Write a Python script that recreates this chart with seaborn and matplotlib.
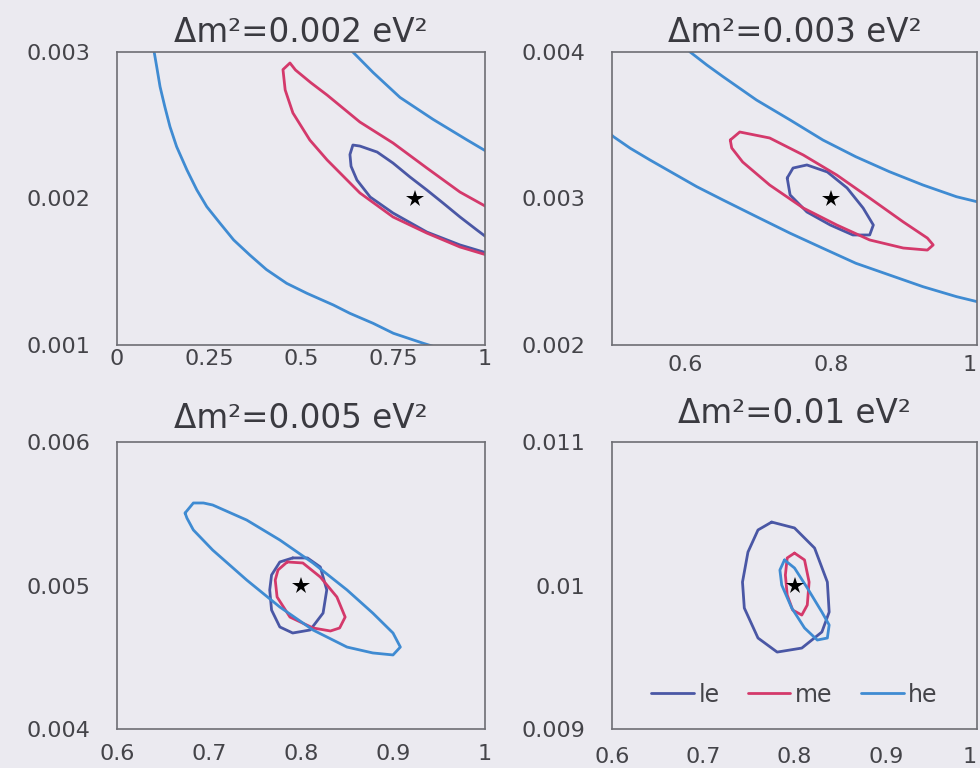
import matplotlib
matplotlib.use("Agg")
import matplotlib.pyplot as plt
import seaborn as sns

# ---------------- data ----------------
titles = ["Δm²=0.002 eV²", "Δm²=0.003 eV²", "Δm²=0.005 eV²", "Δm²=0.01 eV²"]
xlims = [(0.0, 1.0), (0.5, 1.0), (0.6, 1.0), (0.6, 1.0)]
ylims = [(0.001, 0.003), (0.002, 0.004), (0.004, 0.006), (0.009, 0.011)]
xticks = [[0, 0.25, 0.5, 0.75, 1], [0.6, 0.8, 1.0], [0.6, 0.7, 0.8, 0.9, 1.0], [0.6, 0.7, 0.8, 0.9, 1.0]]
xticklabels = [["0", "0.25", "0.5", "0.75", "1"], ["0.6", "0.8", "1"],
               ["0.6", "0.7", "0.8", "0.9", "1"], ["0.6", "0.7", "0.8", "0.9", "1"]]
yticklabels = [["0.001", "0.002", "0.003"], ["0.002", "0.003", "0.004"],
               ["0.004", "0.005", "0.006"], ["0.009", "0.01", "0.011"]]
best_x = [0.81, 0.80, 0.80, 0.80]
best_y = [0.0020, 0.0030, 0.0050, 0.0100]

# panel 1 (dm2 = 0.002)
p1_le_x = [1.005, 0.932, 0.842, 0.750, 0.688, 0.652, 0.636, 0.633, 0.641, 0.660, 0.707, 0.750, 0.796, 0.842, 0.886, 0.932, 0.978, 1.014]
p1_le_y = [0.001628, 0.001683, 0.001771, 0.001901, 0.002010, 0.002126, 0.002220, 0.002300, 0.002365, 0.002358, 0.002317, 0.002242, 0.002147, 0.002058, 0.001969, 0.001874, 0.001785, 0.001717]
p1_me_x = [1.005, 0.932, 0.842, 0.750, 0.660, 0.571, 0.524, 0.478, 0.457, 0.451, 0.470, 0.485, 0.527, 0.571, 0.660, 0.750, 0.842, 0.932, 1.005]
p1_me_y = [0.001614, 0.001669, 0.001764, 0.001874, 0.002038, 0.002263, 0.002399, 0.002584, 0.002741, 0.002880, 0.002925, 0.002877, 0.002790, 0.002706, 0.002522, 0.002379, 0.002208, 0.002044, 0.001942]
p1_he1_x = [0.099, 0.101, 0.108, 0.117, 0.130, 0.144, 0.162, 0.190, 0.217, 0.244, 0.280, 0.317, 0.361, 0.406, 0.461, 0.516, 0.588, 0.633, 0.696, 0.751, 0.832, 0.860]
p1_he1_y = [0.00302, 0.00300, 0.002898, 0.002763, 0.002626, 0.002490, 0.002354, 0.002195, 0.002058, 0.001944, 0.001831, 0.001717, 0.001614, 0.001515, 0.001421, 0.001353, 0.001273, 0.001216, 0.001148, 0.001080, 0.001012, 0.000990]
p1_he2_x = [0.633, 0.696, 0.769, 0.859, 0.951, 1.005]
p1_he2_y = [0.00302, 0.00286, 0.00269, 0.00254, 0.00240, 0.00232]

# panel 2 (dm2 = 0.003)
p2_le_x = [0.740, 0.748, 0.767, 0.795, 0.822, 0.844, 0.858, 0.853, 0.830, 0.799, 0.767, 0.744, 0.740]
p2_le_y = [0.003140, 0.003208, 0.003229, 0.003181, 0.003072, 0.002935, 0.002819, 0.002751, 0.002751, 0.002819, 0.002908, 0.003024, 0.003140]
p2_me_x = [0.662, 0.675, 0.716, 0.762, 0.808, 0.853, 0.899, 0.932, 0.940, 0.932, 0.899, 0.853, 0.808, 0.762, 0.716, 0.679, 0.664, 0.662]
p2_me_y = [0.003399, 0.003454, 0.003413, 0.003297, 0.003160, 0.003003, 0.002840, 0.002730, 0.002683, 0.002648, 0.002662, 0.002717, 0.002819, 0.002935, 0.003092, 0.003249, 0.003345, 0.003399]
p2_he1_x = [0.498, 0.502, 0.525, 0.552, 0.584, 0.616, 0.652, 0.698, 0.744, 0.789, 0.834, 0.880, 0.926, 0.972, 1.005]
p2_he1_y = [0.003440, 0.003422, 0.003343, 0.003263, 0.003172, 0.003081, 0.002990, 0.002876, 0.002763, 0.002660, 0.002558, 0.002478, 0.002398, 0.002330, 0.002290]
p2_he2_x = [0.600, 0.607, 0.630, 0.652, 0.675, 0.698, 0.721, 0.744, 0.789, 0.834, 0.880, 0.926, 0.972, 1.005]
p2_he2_y = [0.004040, 0.004000, 0.003911, 0.003832, 0.003752, 0.003672, 0.003604, 0.003536, 0.003399, 0.003285, 0.003183, 0.003092, 0.003012, 0.002972]

# panel 3 (dm2 = 0.005)
p3_le_x = [0.791, 0.777, 0.768, 0.766, 0.768, 0.777, 0.791, 0.810, 0.824, 0.828, 0.821, 0.807, 0.791]
p3_le_y = [0.005192, 0.005164, 0.005073, 0.004969, 0.004829, 0.004711, 0.004669, 0.004690, 0.004808, 0.004969, 0.005129, 0.005192, 0.005192]
p3_me_x = [0.785, 0.775, 0.772, 0.774, 0.788, 0.813, 0.832, 0.842, 0.848, 0.839, 0.821, 0.802, 0.785]
p3_me_y = [0.005164, 0.005108, 0.005038, 0.004920, 0.004780, 0.004704, 0.004683, 0.004704, 0.004780, 0.004920, 0.005059, 0.005157, 0.005164]
p3_he_x = [0.674, 0.683, 0.694, 0.704, 0.741, 0.777, 0.813, 0.850, 0.878, 0.900, 0.908, 0.900, 0.878, 0.850, 0.813, 0.777, 0.741, 0.704, 0.683, 0.676, 0.674]
p3_he_y = [0.005505, 0.005575, 0.005575, 0.005561, 0.005456, 0.005317, 0.005157, 0.004969, 0.004808, 0.004669, 0.004571, 0.004516, 0.004530, 0.004571, 0.004690, 0.004850, 0.005038, 0.005247, 0.005387, 0.005470, 0.005505]

# panel 4 (dm2 = 0.01)
p4_le_x = [0.775, 0.800, 0.822, 0.836, 0.838, 0.830, 0.808, 0.781, 0.760, 0.745, 0.743, 0.749, 0.760, 0.775]
p4_le_y = [0.010442, 0.010401, 0.010261, 0.010024, 0.009815, 0.009676, 0.009564, 0.009536, 0.009634, 0.009843, 0.010024, 0.010233, 0.010387, 0.010442]
p4_me_x = [0.800, 0.811, 0.816, 0.814, 0.808, 0.798, 0.792, 0.790, 0.792, 0.800]
p4_me_y = [0.010226, 0.010178, 0.010024, 0.009864, 0.009794, 0.009829, 0.009934, 0.010073, 0.010192, 0.010226]
p4_he_x = [0.789, 0.800, 0.814, 0.830, 0.838, 0.836, 0.825, 0.811, 0.797, 0.786, 0.784, 0.789]
p4_he_y = [0.010178, 0.010122, 0.009983, 0.009815, 0.009725, 0.009634, 0.009620, 0.009704, 0.009843, 0.010003, 0.010108, 0.010178]

panel_curves = [
    [("le", p1_le_x, p1_le_y), ("me", p1_me_x, p1_me_y), ("he", p1_he1_x, p1_he1_y), ("he", p1_he2_x, p1_he2_y)],
    [("le", p2_le_x, p2_le_y), ("me", p2_me_x, p2_me_y), ("he", p2_he1_x, p2_he1_y), ("he", p2_he2_x, p2_he2_y)],
    [("le", p3_le_x, p3_le_y), ("me", p3_me_x, p3_me_y), ("he", p3_he_x, p3_he_y)],
    [("le", p4_le_x, p4_le_y), ("me", p4_me_x, p4_me_y), ("he", p4_he_x, p4_he_y)],
]

# ---------------- styling ----------------
BG = "#ebeaf0"
colors = {"le": "#4a57a5", "me": "#d4396b", "he": "#3f8bd2"}
SPINE = "#6e6e74"
TXT = "#444449"

sns.set_theme(style="white")
plt.rcParams["font.family"] = ["DejaVu Sans"]
plt.rcParams["figure.facecolor"] = BG
plt.rcParams["axes.facecolor"] = BG

fig = plt.figure(figsize=(9.8, 7.68), dpi=100)
W, H = 980, 768
boxes = [(117, 52, 485, 345), (612, 52, 977, 345), (117, 442, 485, 729), (612, 442, 977, 729)]
xpads = [3, 7, 11, 13]
title_pads = [7, 7, 10, 14]

for i, (l, t, r, b) in enumerate(boxes):
    ax = fig.add_axes([l / W, 1 - b / H, (r - l) / W, (b - t) / H])
    ax.set_facecolor(BG)
    seen = set()
    for name, xs, ys in panel_curves[i]:
        lab = name if (i == 3 and name not in seen) else None
        seen.add(name)
        sns.lineplot(x=xs, y=ys, sort=False, estimator=None, ax=ax,
                     color=colors[name], lw=2.0, label=lab,
                     solid_joinstyle="round", solid_capstyle="round")
    ax.plot(best_x[i], best_y[i], marker="*", color="black", ms=13, mew=0, zorder=5)
    ax.set_xlim(*xlims[i])
    ax.set_ylim(*ylims[i])
    ax.set_xticks(xticks[i])
    ax.set_xticklabels(xticklabels[i])
    ymid = (ylims[i][0] + ylims[i][1]) / 2
    ax.set_yticks([ylims[i][0], ymid, ylims[i][1]])
    ax.set_yticklabels(yticklabels[i])
    ax.tick_params(axis="both", direction="in", length=11, width=1.0, color=SPINE,
                   labelsize=16, labelcolor=TXT)
    ax.tick_params(axis="y", pad=19)
    ax.tick_params(axis="x", pad=xpads[i])
    if i in (1, 3):
        ax.get_xticklabels()[-1].set_horizontalalignment("right")
    for s in ax.spines.values():
        s.set_visible(True)
        s.set_color(SPINE)
        s.set_linewidth(1.2)
    ax.set_title(titles[i], fontsize=23.5, color="#3a3a40", pad=title_pads[i])
    ax.set_xlabel("")
    ax.set_ylabel("")
    if i == 3:
        ax.legend(loc="center", bbox_to_anchor=(0.50, 0.12), ncol=3, frameon=False,
                  fontsize=17, handlelength=1.8, handletextpad=0.2, columnspacing=1.2,
                  labelcolor=TXT)
    elif ax.get_legend() is not None:
        ax.get_legend().remove()

fig.savefig("out.png", dpi=100, facecolor=BG)
